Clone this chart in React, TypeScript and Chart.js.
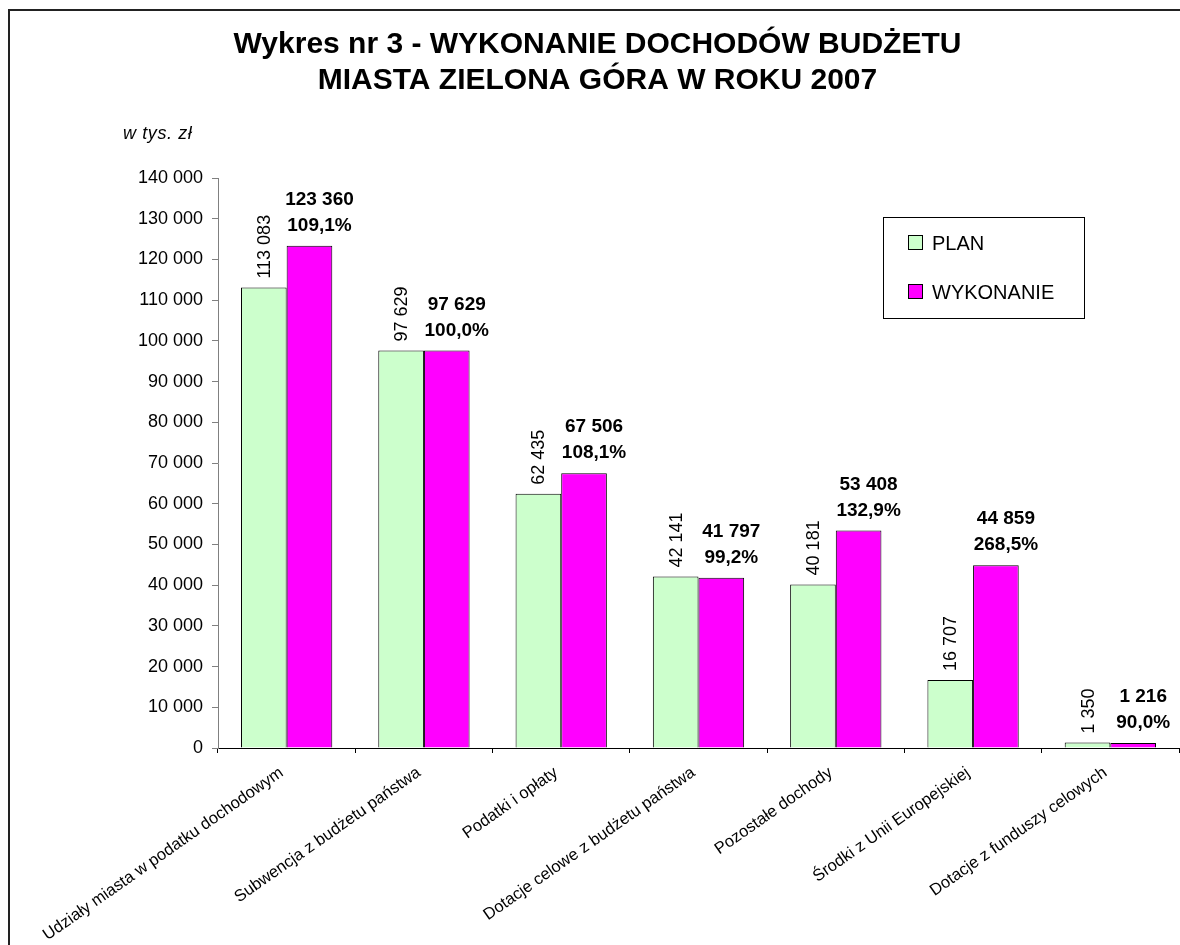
import React, { useEffect, useRef } from 'react';
import { Chart, registerables } from 'chart.js';

Chart.register(...registerables);

const FONT = '"Liberation Sans", Arial, Helvetica, sans-serif';

const categories = [
  'Udziały miasta w podatku dochodowym',
  'Subwencja z budżetu państwa',
  'Podatki i opłaty',
  'Dotacje celowe z budżetu państwa',
  'Pozostałe dochody',
  'Środki z Unii Europejskiej',
  'Dotacje z funduszy celowych',
];
const planValues = [113083, 97629, 62435, 42141, 40181, 16707, 1350];
const wykonanieValues = [123360, 97629, 67506, 41797, 53408, 44859, 1216];
const wykonaniePercent = ['109,1%', '100,0%', '108,1%', '99,2%', '132,9%', '268,5%', '90,0%'];
const seriesNames = ['PLAN', 'WYKONANIE'];
const seriesColors = ['#CCFFCC', '#FF00FF'];
const titleLines = ['Wykres nr 3 - WYKONANIE DOCHODÓW BUDŻETU', 'MIASTA ZIELONA GÓRA W ROKU 2007'];
const unitLabel = 'w tys. zł';
const yMin = 0;
const yMax = 140000;
const yStep = 10000;

const fmt = (v: number) => String(Math.round(v)).replace(/\B(?=(\d{3})+(?!\d))/g, ' ');

const valueLabelsPlugin = {
  id: 'valueLabels',
  afterDatasetsDraw(chart: any) {
    const ctx = chart.ctx;
    const m0 = chart.getDatasetMeta(0);
    const m1 = chart.getDatasetMeta(1);
    ctx.save();
    ctx.fillStyle = '#000';
    m0.data.forEach((bar: any, i: number) => {
      ctx.save();
      ctx.translate(bar.x + 1, bar.y - 9);
      ctx.rotate(-Math.PI / 2);
      ctx.font = `18px ${FONT}`;
      ctx.textAlign = 'left';
      ctx.textBaseline = 'middle';
      ctx.fillText(fmt(chart.data.datasets[0].data[i]), 0, 0);
      ctx.restore();
    });
    m1.data.forEach((bar: any, i: number) => {
      ctx.font = `bold 19px ${FONT}`;
      ctx.textAlign = 'center';
      ctx.textBaseline = 'alphabetic';
      ctx.fillText(fmt(chart.data.datasets[1].data[i]), bar.x + 10, bar.y - 41);
      ctx.fillText(wykonaniePercent[i], bar.x + 10, bar.y - 15);
    });
    ctx.restore();
  },
};

const decorPlugin = {
  id: 'decor',
  afterDraw(chart: any) {
    const ctx = chart.ctx;
    ctx.save();
    // outer frame
    ctx.strokeStyle = '#222';
    ctx.lineWidth = 2;
    ctx.strokeRect(1, 2, chart.width + 20, chart.height + 20);
    // unit label
    ctx.fillStyle = '#000';
    ctx.font = `italic 18px ${FONT}`;
    ctx.textAlign = 'left';
    ctx.textBaseline = 'alphabetic';
    try { (ctx as any).letterSpacing = '0.6px'; } catch (e) {}
    ctx.fillText(unitLabel, 115, 131);
    try { (ctx as any).letterSpacing = '0px'; } catch (e) {}
    // legend
    ctx.lineWidth = 1;
    ctx.strokeStyle = '#000';
    ctx.fillStyle = '#fff';
    ctx.fillRect(875.5, 209.5, 201, 101);
    ctx.strokeRect(875.5, 209.5, 201, 101);
    const rows = [235, 284];
    chart.data.datasets.forEach((ds: any, i: number) => {
      const cy = rows[i];
      ctx.fillStyle = ds.backgroundColor;
      ctx.fillRect(900.5, cy - 7.5, 14, 14);
      ctx.strokeStyle = '#000';
      ctx.strokeRect(900.5, cy - 7.5, 14, 14);
      ctx.fillStyle = '#000';
      ctx.font = `20px ${FONT}`;
      ctx.textBaseline = 'middle';
      ctx.fillText(ds.label, 924, cy + 1);
    });
    ctx.restore();
  },
};

export default function App() {
  const canvasRef = useRef<HTMLCanvasElement | null>(null);

  useEffect(() => {
    const canvas = canvasRef.current;
    if (!canvas) return;
    Chart.defaults.font.family = FONT;
    const chart = new Chart(canvas, {
      type: 'bar',
      data: {
        labels: categories,
        datasets: [
          {
            label: seriesNames[0],
            data: planValues,
            backgroundColor: seriesColors[0],
            borderColor: '#000',
            borderWidth: 1,
            categoryPercentage: 0.665,
            barPercentage: 1,
          },
          {
            label: seriesNames[1],
            data: wykonanieValues,
            backgroundColor: seriesColors[1],
            borderColor: '#000',
            borderWidth: 1,
            categoryPercentage: 0.665,
            barPercentage: 1,
          },
        ],
      },
      options: {
        responsive: false,
        animation: false,
        layout: { padding: { left: 8, right: 1, top: 0, bottom: 0 } },
        plugins: {
          legend: { display: false },
          tooltip: { enabled: false },
          title: {
            display: true,
            text: titleLines,
            color: '#000',
            font: { size: 30, weight: 'bold', family: FONT, lineHeight: 1.2 },
            padding: { top: 19, bottom: 79 },
          },
        },
        scales: {
          x: {
            grid: {
              display: true,
              drawOnChartArea: false,
              drawTicks: true,
              tickLength: 5,
              color: '#000',
              offset: true,
            },
            border: { color: '#000', width: 1 },
            ticks: {
              color: '#000',
              font: { size: 16.5, family: FONT },
              minRotation: 35,
              maxRotation: 35,
              autoSkip: false,
              padding: 10,
              labelOffset: -5,
            },
            afterFit: (scale: any) => {
              scale.height = 197;
            },
          },
          y: {
            min: yMin,
            max: yMax,
            grid: {
              display: true,
              drawOnChartArea: false,
              drawTicks: true,
              tickLength: 6,
              color: '#808080',
            },
            border: { color: '#808080', width: 1 },
            ticks: {
              stepSize: yStep,
              color: '#000',
              font: { size: 18, family: FONT },
              padding: 9,
              callback: (v: any) => fmt(Number(v)),
            },
            afterFit: (scale: any) => {
              scale.width = 202;
            },
          },
        },
      },
      plugins: [valueLabelsPlugin, decorPlugin],
    });
    return () => chart.destroy();
  }, []);

  return (
    <div style={{ position: 'fixed', left: 8, top: 8, width: 1172, height: 937, background: '#fff' }}>
      <canvas ref={canvasRef} width={1172} height={937} style={{ display: 'block' }} />
    </div>
  );
}
